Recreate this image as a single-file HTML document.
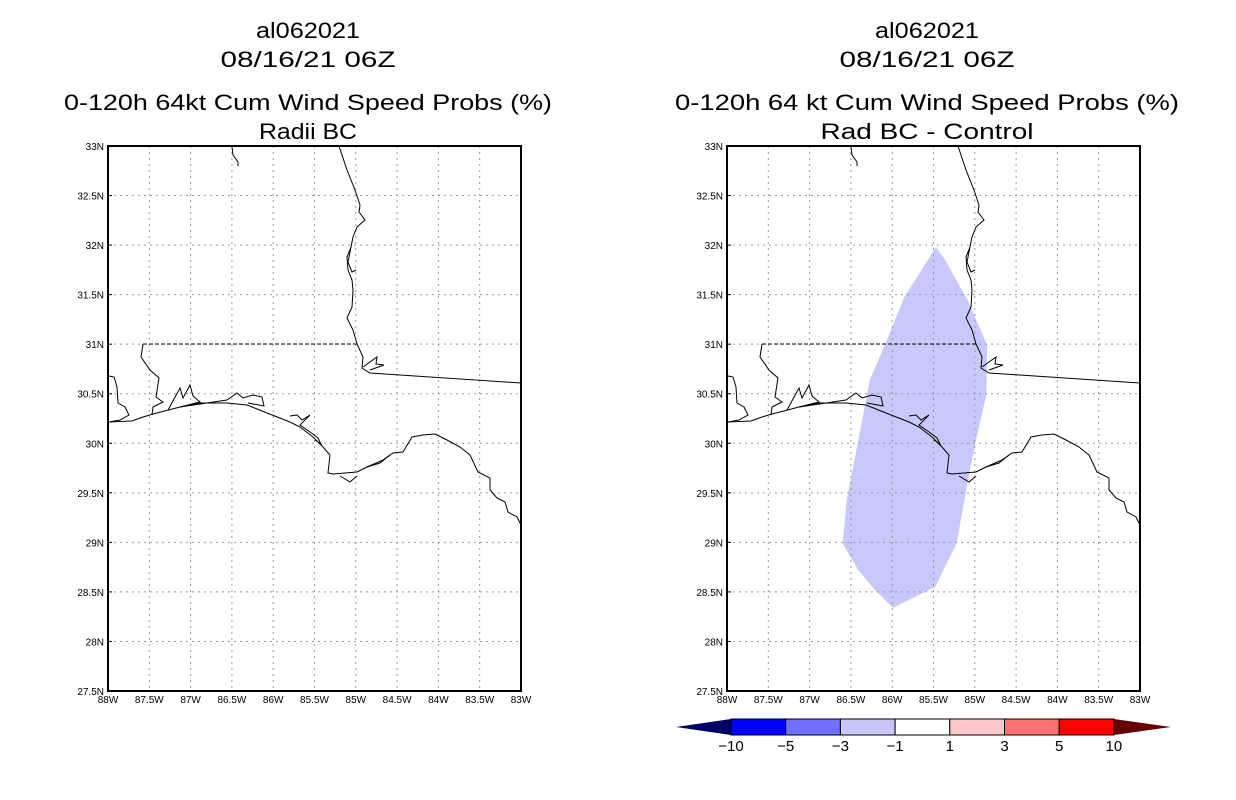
<!DOCTYPE html>
<html><head><meta charset="utf-8"><style>
body{margin:0;background:#fff}
svg{display:block;font-family:"Liberation Sans",sans-serif}
</style></head><body>
<svg id="chart" width="1236" height="800" viewBox="0 0 1236 800">
<defs>
<g id="coast" fill="none" stroke="#000" stroke-width="1">
<path d="M339,146 L347,170 L355,190 L360,205 L359,212 L365,220 L357,227 L353,237 L351,247 L347,257 L348,270 L352,280 L353,290 L352,307 L347,318 L353,330 L357,344 L363,357 L362,368 L370,373 L521,383"/>
<path d="M363,367 L377,357 L376,364 L384,365 L370,370"/>
<path d="M351,247 L348,262 L352,272 L356,270"/>
<path d="M143,344 L141,357 L150,370 L159,378 L156,397 L163,402 L153,407 L152,415"/>
<path d="M109,376 L114,377 L117,387 L118,403 L125,407 L129,415 L120,420 L109,422"/>
<path d="M109,422 L132,421 L143,417 L153,414 L180,407 L200,403 L227,403 L247,405 L267,413 L290,422 L300,427 L313,437 L323,447 L330,455 L328,473 L333,474 L357,472 L367,467 L383,460 L393,453 L403,452 L412,437 L423,435 L435,434 L447,440 L460,447 L470,455 L478,472 L490,478 L490,490 L497,498 L505,502 L508,512 L517,517 L521,525"/>
<path d="M168,410 L180,388 L183,398 L190,385 L193,396 L200,402 L180,407"/>
<path d="M180,407 L227,400 L237,393 L243,398 L253,395 L262,397 L264,406 L248,403"/>
<path d="M290,416 L297,415 L302,420 L310,415 L300,425 L310,432 L318,438 L321,444 L315,440"/>
<path d="M340,476 L350,482 L357,476 M367,467 L380,463 L390,455"/>
<path d="M232,147 L233,155 L238,162 L238,166"/>
</g>
</defs>

<g>
<g font-size="22" text-anchor="middle" fill="#000">
<text x="308" y="38" textLength="104" lengthAdjust="spacingAndGlyphs">al062021</text>
<text x="308" y="67" textLength="175" lengthAdjust="spacingAndGlyphs">08/16/21 06Z</text>
<text x="308" y="110" textLength="488" lengthAdjust="spacingAndGlyphs">0-120h 64kt Cum Wind Speed Probs (%)</text>
<text x="308" y="139" textLength="98" lengthAdjust="spacingAndGlyphs">Radii BC</text>
</g>
<g id="gridL"></g>
<use href="#coast"/>
<line x1="143" y1="344" x2="357" y2="344" stroke="#000" stroke-dasharray="4,2"/>
<rect x="108" y="146" width="413" height="545" fill="none" stroke="#000" stroke-width="2"/>
</g>

<g>
<g font-size="22" text-anchor="middle" fill="#000">
<text x="927" y="38" textLength="104" lengthAdjust="spacingAndGlyphs">al062021</text>
<text x="927" y="67" textLength="175" lengthAdjust="spacingAndGlyphs">08/16/21 06Z</text>
<text x="927" y="110" textLength="504" lengthAdjust="spacingAndGlyphs">0-120h 64 kt Cum Wind Speed Probs (%)</text>
<text x="927" y="139" textLength="213" lengthAdjust="spacingAndGlyphs">Rad BC - Control</text>
</g>
<polygon id="probPoly" fill="#c8c8fa"/>
<g id="gridR"></g>
<use href="#coast" transform="translate(619,0)"/>
<line x1="762" y1="344" x2="976" y2="344" stroke="#000" stroke-dasharray="4,2"/>
<rect x="727" y="146" width="413" height="545" fill="none" stroke="#000" stroke-width="2"/>
<g id="cbar"></g>
</g>
</svg>
<script>
const lonTicks=[-88,-87.5,-87,-86.5,-86,-85.5,-85,-84.5,-84,-83.5,-83];
const latTicks=[27.5,28,28.5,29,29.5,30,30.5,31,31.5,32,32.5,33];
const polyLon=[-85.47,-85.85,-86.09,-86.27,-86.41,-86.55,-86.60,-86.41,-86.21,-85.99,-85.48,-85.22,-85.06,-84.96,-84.86,-84.85,-85.09,-85.36];
const polyLat=[31.98,31.48,30.99,30.64,30.03,29.43,28.99,28.72,28.52,28.34,28.55,28.99,29.73,30.13,30.49,30.99,31.45,31.85];
const cbarLevels=["-10","-5","-3","-1","1","3","5","10"];
const cbarColors=["#0000ff","#7070ff","#c8c8f8","#ffffff","#ffc8c8","#ff7070","#ff0000"];
const NS="http://www.w3.org/2000/svg";
function mk(t,a,p){const e=document.createElementNS(NS,t);for(const k in a)e.setAttribute(k,a[k]);p.appendChild(e);return e;}
function xs(x0){return lon=>x0+(lon+88)/5*413;}
function ys(lat){return 146+(33-lat)/5.5*545;}
function lonLab(v){return (-v)+"W";}
function drawAxes(g,x0){
  const X=xs(x0);
  lonTicks.forEach((v,i)=>{
    const x=X(v);
    if(i>0&&i<lonTicks.length-1){
      const l=mk('line',{x1:x,y1:146,x2:x,y2:691,stroke:'#999','stroke-dasharray':'2,4'},g);
      
      
    }
    const t=mk('text',{x:x,y:703,'font-size':10,'text-anchor':'middle'},g);
    t.textContent=lonLab(v);
    
    
  });
  latTicks.forEach((v,i)=>{
    const y=ys(v);
    if(i>0&&i<latTicks.length-1){
      const l=mk('line',{x1:x0,y1:y,x2:x0+413,y2:y,stroke:'#999','stroke-dasharray':'2,4'},g);
      
      
    }
    mk('line',{x1:x0,y1:y,x2:x0+4,y2:y,stroke:'#000'},g);
    const t=mk('text',{x:x0-4,y:y+4,'font-size':10,'text-anchor':'end'},g);
    t.textContent=v+"N";
    
    
  });
}
drawAxes(document.getElementById('gridL'),108);
drawAxes(document.getElementById('gridR'),727);
const XR=xs(727);
document.getElementById('probPoly').setAttribute('points',polyLon.map((v,i)=>XR(v)+","+ys(polyLat[i])).join(" "));
const cb=document.getElementById('cbar');
const cx0=731,cw=54.7,cy=719,ch=16;
const lt=mk('polygon',{points:`676,727 ${cx0},${cy} ${cx0},${cy+ch}`,fill:'#000066'},cb);


cbarColors.forEach((c,i)=>{
  const r=mk('rect',{x:cx0+i*cw,y:cy,width:cw,height:ch,fill:c,stroke:'#000','stroke-width':1},cb);
  
  
});
const xe=cx0+cbarColors.length*cw;
const rt=mk('polygon',{points:`${xe},${cy} 1171,727 ${xe},${cy+ch}`,fill:'#660000'},cb);


cbarLevels.forEach((s,i)=>{
  const t=mk('text',{x:cx0+i*cw,y:751,'font-size':15,'text-anchor':'middle'},cb);
  t.textContent=s.replace('-','\u2212');
  
  
});
</script>
</body></html>
